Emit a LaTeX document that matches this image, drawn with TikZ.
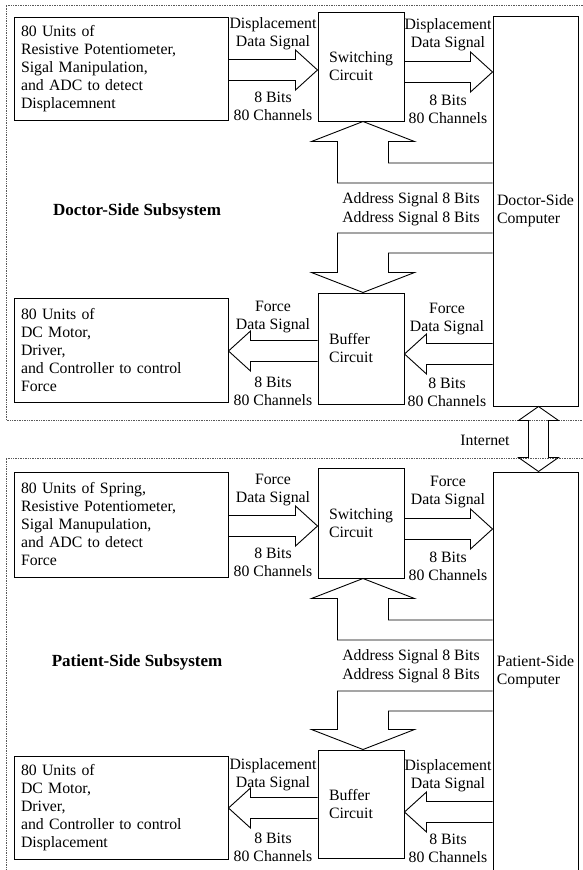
\documentclass[tikz,border=0pt]{standalone}
\usepackage{fontspec}
\setmainfont{Liberation Serif}
\usetikzlibrary{calc}
\tikzset{
  txt/.style={font=\fontsize{15.8}{18}\selectfont},
  box/.style={txt, draw, line width=1pt, inner sep=0pt, align=left},
  lbl/.style={txt, align=center, inner sep=0pt},
  ttl/.style={font=\fontsize{17}{20}\selectfont\bfseries, inner sep=0pt},
  big/.style={draw, line width=0.9pt, line join=miter},
  frameline/.style={draw=black!65, line width=0.7pt, densely dotted},
}
\newcommand\hollowarrow[2]{%
  \path ($(#2)!22pt!(#1)$) coordinate (hb);
  \draw[big] ($(#1)!10.5pt!90:(#2)$) -- ($(hb)!10.5pt!90:(#2)$) -- ($(hb)!20pt!90:(#2)$) -- (#2) -- ($(hb)!20pt!-90:(#2)$) -- ($(hb)!10.5pt!-90:(#2)$) -- ($(#1)!10.5pt!-90:(#2)$);
}
\begin{document}
\begin{tikzpicture}[x=1pt,y=-1pt]
\useasboundingbox (0,0) rectangle (583,870);
% frames
\draw[frameline] (583,5) -- (6,5) -- (6,420) -- (583,420);
\draw[frameline] (583,458) -- (6,458) -- (6,872);

% ---------- Doctor side ----------
\node[box, minimum width=214pt, minimum height=103pt, text width=200pt] (A) at (121,68.5)
  {80 Units of\\Resistive Potentiometer,\\Sigal Manipulation,\\and ADC to detect\\Displacemnent};
\node[box, minimum width=86pt, minimum height=109pt, text width=64pt] (S1) at (361,66.5) {Switching\\Circuit};
\node[box, minimum width=85pt, minimum height=390pt] (C1) at (535.5,211) {Doctor-Side\\Computer};
\node[box, minimum width=86pt, minimum height=111pt, text width=64pt] (B1) at (361,348.5) {Buffer\\Circuit};
\node[box, minimum width=214pt, minimum height=104pt, text width=200pt] (Bm) at (121,350)
  {80 Units of\\DC Motor,\\Driver,\\and Controller to control\\Force};
\node[ttl] (T1) at (137,211) {Doctor-Side Subsystem};

\coordinate (a1s) at (A.east |- 0,70);  \coordinate (a1t) at (S1.west |- 0,70);
\hollowarrow{a1s}{a1t}
\coordinate (a2s) at (S1.east |- 0,72); \coordinate (a2t) at (C1.west |- 0,72);
\hollowarrow{a2s}{a2t}
\coordinate (a3s) at (C1.west |- 0,354); \coordinate (a3t) at (B1.east |- 0,354);
\hollowarrow{a3s}{a3t}
\coordinate (a4s) at (B1.west |- 0,351); \coordinate (a4t) at (Bm.east |- 0,351);
\hollowarrow{a4s}{a4t}

\coordinate (t1) at ($(S1.south)+(2,0)$);
\draw[big] (C1.west |- 0,183) -| ($(t1)+(-25.5,20)$) -- ($(t1)+(-51.5,20)$) -- (t1)
  -- ($(t1)+(51.5,20)$) -- ($(t1)+(25.5,20)$) |- (C1.west |- 0,163);
\coordinate (t2) at ($(B1.north)+(2,0)$);
\draw[big] (C1.west |- 0,233) -| ($(t2)+(-25.5,-20)$) -- ($(t2)+(-51.5,-20)$) -- (t2)
  -- ($(t2)+(51.5,-20)$) -- ($(t2)+(25.5,-20)$) |- (C1.west |- 0,253);

\node[lbl] (l1a) at (273,34) {Displacement\\Data Signal};
\node[lbl] (l1b) at (273,106) {8 Bits\\80 Channels};
\node[lbl] (l2a) at (448,35) {Displacement\\Data Signal};
\node[lbl] (l2b) at (448,109) {8 Bits\\80 Channels};
\node[lbl] (l3) at (411,200) {Address Signal 8 Bits};
\node[lbl] (l4) at (411,219) {Address Signal 8 Bits};
\node[lbl] (l5a) at (447,319) {Force\\Data Signal};
\node[lbl] (l5b) at (447,392.5) {8 Bits\\80 Channels};
\node[lbl] (l6a) at (273,317.5) {Force\\Data Signal};
\node[lbl] (l6b) at (273,391.5) {8 Bits\\80 Channels};

% ---------- Internet ----------
\node[box, minimum width=85pt, minimum height=400pt] (P) at (535.5,672) {Patient-Side\\Computer};
\coordinate (it1) at ($(C1.south)+(3,0)$);
\coordinate (it2) at ($(P.north)+(3,0)$);
\path ($(it1)!14pt!(it2)$) coordinate (h1) ($(it2)!14pt!(it1)$) coordinate (h2);
\draw[big] (it1) -- ($(h1)!20pt!90:(it2)$) -- ($(h1)!10pt!90:(it2)$) -- ($(h2)!10pt!-90:(it1)$)
  -- ($(h2)!20pt!-90:(it1)$) -- (it2) -- ($(h2)!20pt!90:(it1)$) -- ($(h2)!10pt!90:(it1)$)
  -- ($(h1)!10pt!-90:(it2)$) -- ($(h1)!20pt!-90:(it2)$) -- cycle;
\node[lbl] (inet) at (485,440) {Internet};

% ---------- Patient side ----------
\node[box, minimum width=214pt, minimum height=105pt, text width=200pt] (Cs) at (121,524.5)
  {80 Units of Spring,\\Resistive Potentiometer,\\Sigal Manupulation,\\and ADC to detect\\Force};
\node[box, minimum width=86pt, minimum height=110pt, text width=64pt] (S2) at (361,523) {Switching\\Circuit};
\node[box, minimum width=86pt, minimum height=108pt, text width=64pt] (B2) at (361,804) {Buffer\\Circuit};
\node[box, minimum width=214pt, minimum height=103pt, text width=200pt] (D) at (121,807.5)
  {80 Units of\\DC Motor,\\Driver,\\and Controller to control\\Displacement};
\node[ttl] (T2) at (137,662) {Patient-Side Subsystem};

\coordinate (b1s) at (Cs.east |- 0,526);  \coordinate (b1t) at (S2.west |- 0,526);
\hollowarrow{b1s}{b1t}
\coordinate (b2s) at (S2.east |- 0,529); \coordinate (b2t) at (P.west |- 0,529);
\hollowarrow{b2s}{b2t}
\coordinate (b3s) at (P.west |- 0,812); \coordinate (b3t) at (B2.east |- 0,812);
\hollowarrow{b3s}{b3t}
\coordinate (b4s) at (B2.west |- 0,808); \coordinate (b4t) at (D.east |- 0,808);
\hollowarrow{b4s}{b4t}

\coordinate (t3) at ($(S2.south)+(2,0)$);
\draw[big] (P.west |- 0,640) -| ($(t3)+(-25.5,20)$) -- ($(t3)+(-51.5,20)$) -- (t3)
  -- ($(t3)+(51.5,20)$) -- ($(t3)+(25.5,20)$) |- (P.west |- 0,620);
\coordinate (t4) at ($(B2.north)+(2,0)$);
\draw[big] (P.west |- 0,691) -| ($(t4)+(-25.5,-20)$) -- ($(t4)+(-51.5,-20)$) -- (t4)
  -- ($(t4)+(51.5,-20)$) -- ($(t4)+(25.5,-20)$) |- (P.west |- 0,711);

\node[lbl] (m1a) at (273,490) {Force\\Data Signal};
\node[lbl] (m1b) at (273,562) {8 Bits\\80 Channels};
\node[lbl] (m2a) at (448,492.5) {Force\\Data Signal};
\node[lbl] (m2b) at (448,566) {8 Bits\\80 Channels};
\node[lbl] (m3) at (411,657) {Address Signal 8 Bits};
\node[lbl] (m4) at (411,676) {Address Signal 8 Bits};
\node[lbl] (m5a) at (448,776) {Displacement\\Data Signal};
\node[lbl] (m5b) at (448,848) {8 Bits\\80 Channels};
\node[lbl] (m6a) at (273,775) {Displacement\\Data Signal};
\node[lbl] (m6b) at (273,847) {8 Bits\\80 Channels};
\end{tikzpicture}
\end{document}
